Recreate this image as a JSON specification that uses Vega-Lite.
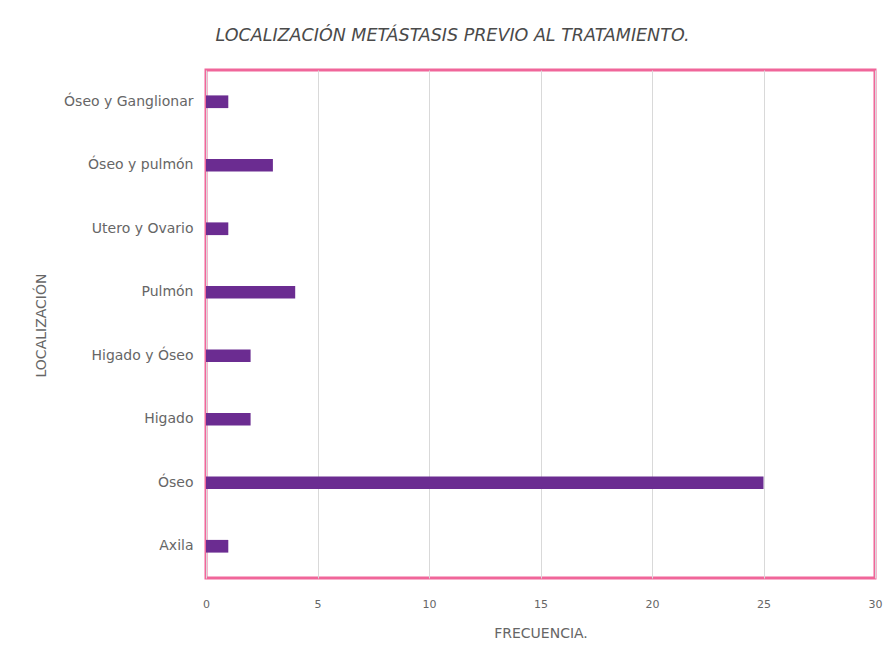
{
  "$schema": "https://vega.github.io/schema/vega-lite/v6.json",
  "width": 669,
  "height": 508,
  "autosize": {"type": "none"},
  "padding": {"left": 206, "top": 70, "right": 12, "bottom": 86},
  "background": "white",
  "title": {
    "text": "LOCALIZACIÓN METÁSTASIS PREVIO AL TRATAMIENTO.",
    "font": "DejaVu Sans",
    "fontSize": 17.5,
    "fontStyle": "italic",
    "fontWeight": "normal",
    "color": "#4a4a4a",
    "anchor": "middle",
    "dx": -88,
    "offset": 26
  },
  "config": {
    "view": {"stroke": "#f0669a", "strokeWidth": 3},
    "axis": {"labelFont": "DejaVu Sans", "titleFont": "DejaVu Sans", "labelColor": "#666666", "titleColor": "#666666"}
  },
  "data": {
    "values": [
      {"loc": "Óseo y Ganglionar", "n": 1},
      {"loc": "Óseo y pulmón", "n": 3},
      {"loc": "Utero y Ovario", "n": 1},
      {"loc": "Pulmón", "n": 4},
      {"loc": "Higado y Óseo", "n": 2},
      {"loc": "Higado", "n": 2},
      {"loc": "Óseo", "n": 25},
      {"loc": "Axila", "n": 1}
    ]
  },
  "mark": {"type": "bar", "color": "#6b2c91"},
  "encoding": {
    "y": {
      "field": "loc",
      "type": "nominal",
      "sort": null,
      "scale": {"paddingInner": 0.8, "paddingOuter": 0.4},
      "axis": {
        "title": "LOCALIZACIÓN",
        "titleFontSize": 14,
        "titleFontWeight": "normal",
        "titleX": -158,
        "titleY": 255,
        "titleAngle": 270,
        "labelFontSize": 14,
        "labelPadding": 13,
        "ticks": false,
        "domain": false,
        "grid": false
      }
    },
    "x": {
      "field": "n",
      "type": "quantitative",
      "scale": {"domain": [0, 30], "nice": false},
      "axis": {
        "title": "FRECUENCIA.",
        "titleFontSize": 14,
        "titleFontWeight": "normal",
        "titlePadding": 17,
        "values": [0, 5, 10, 15, 20, 25, 30],
        "labelFontSize": 11,
        "labelPadding": 20,
        "labelFlush": false,
        "ticks": false,
        "domain": false,
        "grid": true,
        "gridColor": "#d9d9d9"
      }
    }
  }
}
